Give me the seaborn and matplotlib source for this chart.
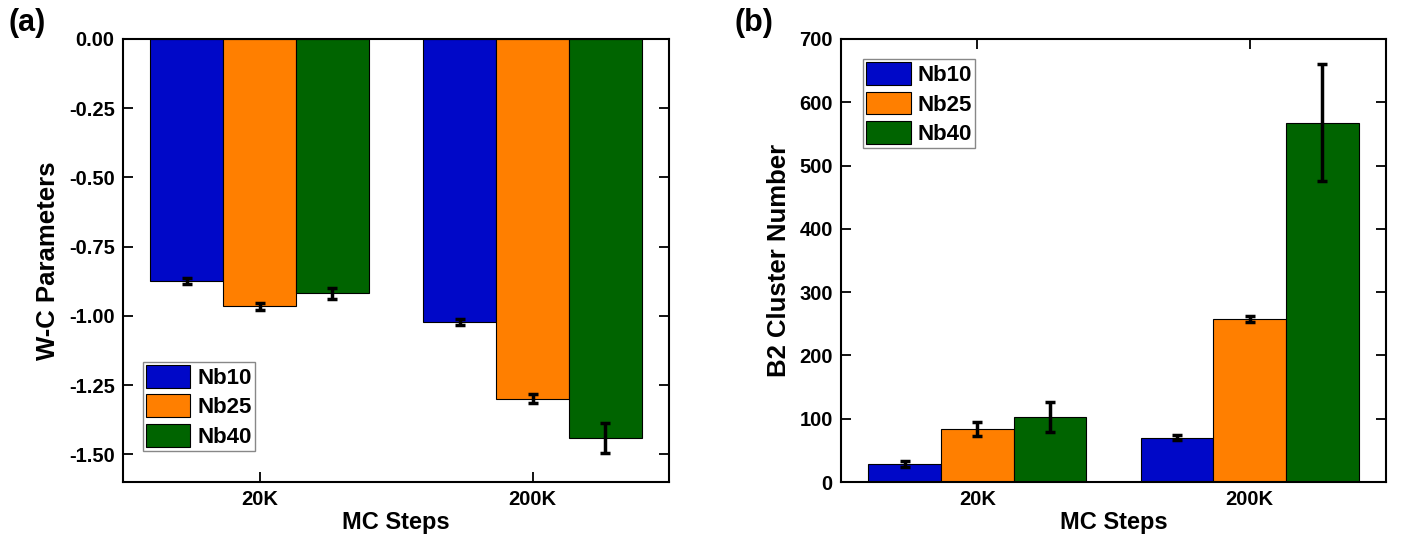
import pandas as pd
import numpy as np
import seaborn as sns
import matplotlib.pyplot as plt

steps = ['20K', '200K']
alloys = ['Nb10', 'Nb25', 'Nb40']
colors = ['#0008C8', '#FF7F00', '#006400']

# W-C parameters (panel a), per alloy, per MC step
wc_nb10 = [-0.875, -1.022]
wc_nb25 = [-0.966, -1.299]
wc_nb40 = [-0.918, -1.441]
wc_err_nb10 = [0.010, 0.012]
wc_err_nb25 = [0.011, 0.017]
wc_err_nb40 = [0.020, 0.053]

# B2 cluster number (panel b)
b2_nb10 = [28, 70]
b2_nb25 = [84, 258]
b2_nb40 = [103, 568]
b2_err_nb10 = [5, 4]
b2_err_nb25 = [11, 5]
b2_err_nb40 = [24, 93]


def make_frame(vals, errs):
    rows = dict(step=[], alloy=[], value=[], err=[])
    for alloy, v, e in zip(alloys, vals, errs):
        for s, vv, ee in zip(steps, v, e):
            rows['step'].append(s)
            rows['alloy'].append(alloy)
            rows['value'].append(vv)
            rows['err'].append(ee)
    return pd.DataFrame(rows)


wc = make_frame([wc_nb10, wc_nb25, wc_nb40], [wc_err_nb10, wc_err_nb25, wc_err_nb40])
b2 = make_frame([b2_nb10, b2_nb25, b2_nb40], [b2_err_nb10, b2_err_nb25, b2_err_nb40])

sns.set_style('ticks')
plt.rcParams['font.family'] = ['Liberation Sans', 'DejaVu Sans']
plt.rcParams['font.weight'] = 'bold'
plt.rcParams['axes.labelweight'] = 'bold'
plt.rcParams['text.color'] = 'black'
plt.rcParams['axes.labelcolor'] = 'black'
plt.rcParams['xtick.color'] = 'black'
plt.rcParams['ytick.color'] = 'black'
plt.rcParams['axes.edgecolor'] = 'black'

fig = plt.figure(figsize=(14.03, 5.38), dpi=100)
ax1 = fig.add_axes([123 / 1403, 1 - 482 / 538, 546 / 1403, 443 / 538])
ax2 = fig.add_axes([841 / 1403, 1 - 482 / 538, 545 / 1403, 443 / 538])


def draw(ax, df, ylabel, ylim, yticks, fmt, legend_loc, legend_anchor):
    sns.barplot(data=df, x='step', y='value', hue='alloy', hue_order=alloys,
                order=steps, palette=colors, errorbar=None, width=0.8,
                edgecolor='black', linewidth=0.8, saturation=1, ax=ax)
    # error bars at bar centres
    for alloy, container in zip(alloys, ax.containers):
        sub = df[df['alloy'] == alloy].set_index('step').loc[steps]
        xs = [p.get_x() + p.get_width() / 2 for p in container.patches]
        ax.errorbar(xs, sub['value'].values, yerr=sub['err'].values, fmt='none',
                    ecolor='black', elinewidth=2.5, capsize=3.5, capthick=2.5, zorder=5)
    ax.set_xlim(-0.5, 1.5)
    ax.set_ylim(*ylim)
    ax.set_yticks(yticks)
    ax.set_yticklabels([fmt % t for t in yticks])
    ax.set_xlabel('MC Steps', fontsize=17, labelpad=1)
    ax.set_ylabel(ylabel, fontsize=18.5, labelpad=6)
    ax.tick_params(direction='in', top=True, right=True, length=7, width=1.3,
                   labelsize=14.5, pad=6)
    for t in ax.get_xticklabels() + ax.get_yticklabels():
        t.set_fontweight('bold')
    for sp in ax.spines.values():
        sp.set_linewidth(1.5)
        sp.set_visible(True)
    ax.legend(loc=legend_loc, bbox_to_anchor=legend_anchor,
              handlelength=2.0, handleheight=1.2, handletextpad=0.3,
              borderpad=0.15, labelspacing=0.25, borderaxespad=0,
              fancybox=False, edgecolor='#888888', framealpha=1,
              prop=dict(weight='bold', size=16))


draw(ax1, wc, 'W-C Parameters', (-1.6, 0.0), [0, -0.25, -0.5, -0.75, -1.0, -1.25, -1.5],
     '%.2f', 'lower left', (0.036, 0.07))
draw(ax2, b2, 'B2 Cluster Number', (0, 700), list(range(0, 701, 100)),
     '%d', 'upper left', (0.04, 0.955))

fig.text(8 / 1403, 1 - 23 / 538, '(a)', fontsize=22, fontweight='bold', va='center')
fig.text(735 / 1403, 1 - 23 / 538, '(b)', fontsize=22, fontweight='bold', va='center')

plt.savefig('out.png', dpi=100)
